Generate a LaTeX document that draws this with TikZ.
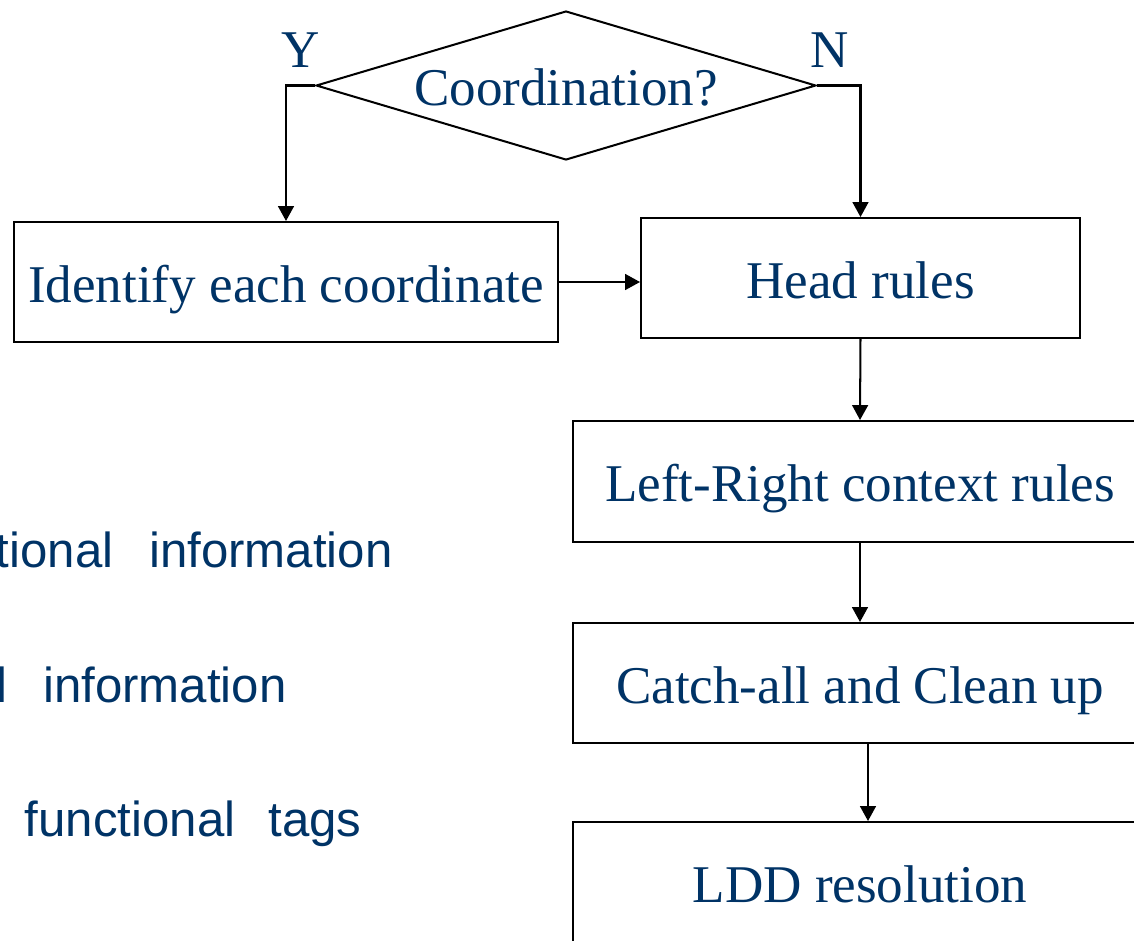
\documentclass[tikz,border=0pt]{standalone}
\usepackage{fontspec}
\setmainfont{Liberation Serif}
\newfontfamily\arialf{Liberation Sans}
\usetikzlibrary{shapes.geometric,arrows.meta}
\definecolor{navy}{RGB}{0,51,102}
\begin{document}
\begin{tikzpicture}[x=0.02cm,y=-0.02cm,
  box/.style={draw=black, line width=1.15pt, rectangle, inner sep=0pt, font=\fontsize{30.2}{34}\selectfont, text=navy, text height=0.8cm, text depth=0pt},
  arr/.style={draw=black, line width=1.15pt, -{Triangle[length=8.5pt,width=9pt]}},
  lab/.style={font=\fontsize{30.2}{34}\selectfont, text=navy, inner sep=0pt},
  side/.style={font=\arialf\fontsize{28}{32}\selectfont, text=navy, inner sep=0pt, anchor=base east}]
\useasboundingbox (0,0) rectangle (1134,941);
\begin{scope}
\clip (0,0) rectangle (1134,941);
\node[diamond, draw=black, line width=1.15pt, inner sep=0pt, shape aspect=3.33,
      minimum width=10cm, minimum height=2.98cm, font=\fontsize{30.2}{34}\selectfont, text=navy,
      text height=0.8cm, text depth=0pt]
      (dec) at (566,85.5) {Coordination?};
\node[lab] (ylab) at (301,50) {Y};
\node[lab] (nlab) at (830,50) {N};
\node[box, minimum width=10.88cm, minimum height=2.4cm] (id) at (286,282) {Identify each coordinate};
\node[box, minimum width=8.78cm, minimum height=2.4cm] (head) at (860.5,278) {Head rules};
\node[box, minimum width=11.48cm, minimum height=2.42cm] (lr) at (860,481.5) {Left-Right context rules};
\node[box, minimum width=11.48cm, minimum height=2.4cm] (cu) at (860,683) {Catch-all and Clean up};
\node[box, minimum width=11.48cm, minimum height=2.4cm] (ldd) at (860,882) {LDD resolution};
\draw[arr] (dec.west) -- (dec.west -| id.north) -- (id.north);
\draw[arr] (dec.east) -| (head.north);
\draw[arr] (id.east) -- (id.east -| head.west);
\draw[arr] (head.south) -- (lr.north);
\draw[arr] (lr.south) -- (cu.north);
\draw[arr] ([xshift=0.16cm]cu.south) -- ([xshift=0.16cm]ldd.north);
\node[side] (t1) at (393,567) {tional\hspace{0.45em} information};
\node[side] (t2) at (287,702) {l\hspace{0.45em} information};
\node[side] (t3) at (362,836) {functional\hspace{0.4em} tags};
\end{scope}
\end{tikzpicture}
\end{document}
